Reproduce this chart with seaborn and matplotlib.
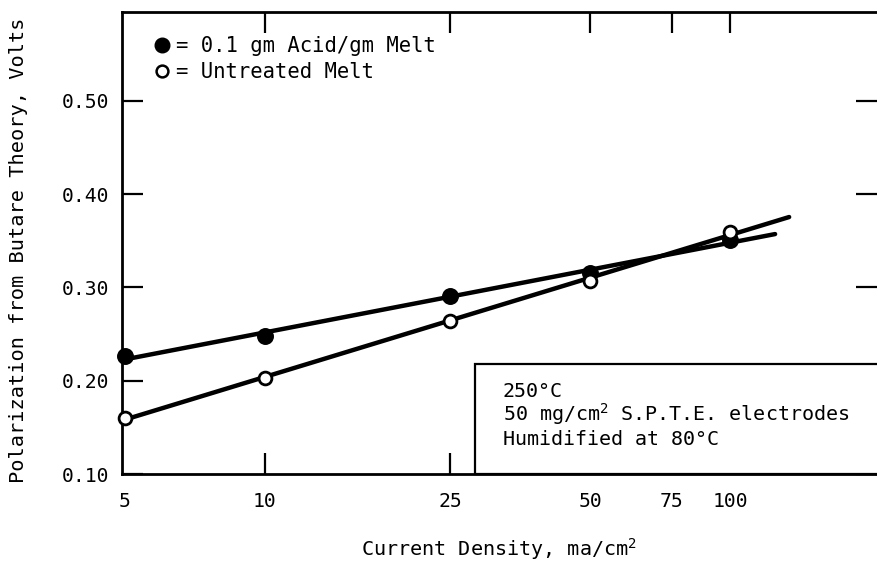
import numpy as np
import pandas as pd
import matplotlib
matplotlib.use("Agg")
import matplotlib.pyplot as plt
from matplotlib.lines import Line2D
from matplotlib.patches import Rectangle
import seaborn as sns

# ---- data ----
current_density = [5, 10, 25, 50, 100]
acid_polarization = [0.226, 0.248, 0.291, 0.315, 0.351]
untreated_polarization = [0.160, 0.203, 0.264, 0.307, 0.359]
fit_range_acid = [5, 125]
fit_range_untreated = [5, 134]

x_ticks = [5, 10, 25, 50, 75, 100]
y_ticks = [0.10, 0.20, 0.30, 0.40, 0.50]

label_acid = "0.1 gm Acid/gm Melt"
label_untreated = "Untreated Melt"
box_lines = ["250\u00b0C", "50 mg/cm$^2$ S.P.T.E. electrodes", "Humidified at 80\u00b0C"]

sns.set_theme(style="ticks")
plt.rcParams["font.family"] = ["DejaVu Sans Mono", "DejaVu Sans"]
plt.rcParams["mathtext.default"] = "regular"
plt.rcParams["font.size"] = 14
plt.rcParams["text.color"] = "black"

fig = plt.figure(figsize=(8.77, 5.61), dpi=100)
ax = fig.add_axes([122 / 877, 87 / 561, 755 / 877, 462 / 561])

df_acid = pd.DataFrame({"x": current_density, "y": acid_polarization})
df_unt = pd.DataFrame({"x": current_density, "y": untreated_polarization})

# fitted straight lines on log-x axis
def fit_line(x, y, xr):
    p = np.polyfit(np.log10(x), y, 1)
    xr = np.array(xr, dtype=float)
    return pd.DataFrame({"x": xr, "y": np.polyval(p, np.log10(xr))})

sns.lineplot(data=fit_line(current_density, acid_polarization, fit_range_acid),
             x="x", y="y", ax=ax, color="black", lw=3.2, zorder=2)
sns.lineplot(data=fit_line(current_density, untreated_polarization, fit_range_untreated),
             x="x", y="y", ax=ax, color="black", lw=3.2, zorder=2)

sns.scatterplot(data=df_acid, x="x", y="y", ax=ax, marker="o", s=125,
                color="black", edgecolor="black", linewidth=1, zorder=4, clip_on=False)
sns.scatterplot(data=df_unt, x="x", y="y", ax=ax, marker="o", s=85,
                facecolor="white", edgecolor="black", linewidth=2.0, zorder=4, clip_on=False)

ax.set_xscale("log")
ax.set_xlim(4.93, 207)
ax.set_ylim(0.10, 0.595)
ax.set_xticks(x_ticks)
ax.set_xticklabels([str(t) for t in x_ticks])
ax.xaxis.set_minor_locator(matplotlib.ticker.NullLocator())
ax.set_yticks(y_ticks)
ax.set_yticklabels([f"{t:.2f}" for t in y_ticks])

ax.tick_params(axis="both", which="major", direction="in", length=15, width=1.6,
               top=True, right=True, labelsize=14.2, color="black", labelcolor="black")
ax.tick_params(axis="x", pad=13)
ax.tick_params(axis="y", pad=9)
# the tick at 5 coincides with the left spine in the reference
first = ax.xaxis.get_major_ticks()[0]
first.tick1line.set_visible(False)
first.tick2line.set_visible(False)
for side, sp in ax.spines.items():
    sp.set_linewidth(2.0)
    sp.set_color("black")
ax.spines["right"].set_visible(False)

ax.set_xlabel("Current Density, ma/cm$^2$", fontsize=14.5, color="black")
ax.set_ylabel("Polarization from Butare Theory, Volts", fontsize=14.6, color="black")
ax.xaxis.set_label_coords(0.5, -0.135)
ax.yaxis.set_label_coords(-0.124, 0.485)

# annotation box
rect = Rectangle((0.4675, 0.0), 0.6, 0.238, transform=ax.transAxes,
                 facecolor="white", edgecolor="black", lw=1.6, zorder=3, clip_on=False)
ax.add_patch(rect)
for yy, txt in zip([0.1667, 0.1147, 0.0628], box_lines):
    ax.text(0.5046, yy, txt, transform=ax.transAxes, fontsize=14.4, va="baseline",
            ha="left", color="black", zorder=5)

handles = [
    Line2D([], [], ls="none", marker="o", ms=10.5, mfc="black", mec="black"),
    Line2D([], [], ls="none", marker="o", ms=8.5, mfc="white", mec="black", mew=1.8),
]
ax.legend(handles, ["= " + label_acid, "= " + label_untreated], loc="upper left",
          bbox_to_anchor=(0.040, 0.948), frameon=False, handlelength=0.95,
          handletextpad=0.2, borderpad=0, borderaxespad=0, labelspacing=0.28,
          fontsize=14.8, labelcolor="black")

fig.savefig("out.png", dpi=100)
